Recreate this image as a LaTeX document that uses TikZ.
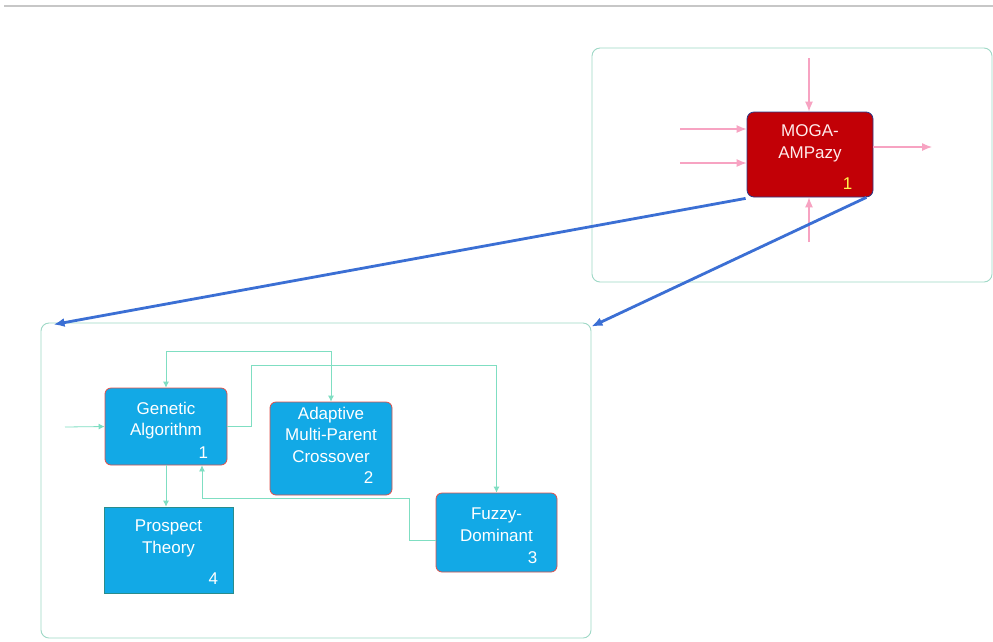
\documentclass[tikz,border=0pt]{standalone}
\usepackage{fontspec}
\setmainfont{Liberation Sans}
\usetikzlibrary{arrows.meta,positioning}
\definecolor{panelgreen}{HTML}{9ED8C6}
\definecolor{linkgreen}{HTML}{7FDEC2}
\definecolor{boxblue}{HTML}{12A9E6}
\definecolor{boxred}{HTML}{E0504A}
\definecolor{tealedge}{HTML}{2A8C8C}
\definecolor{mogared}{HTML}{C20006}
\definecolor{mogaedge}{HTML}{2A3A8A}
\definecolor{feedpink}{HTML}{F7A3C2}
\definecolor{zoomblue}{HTML}{3B6FD4}

\begin{document}
\begin{tikzpicture}[
    x=1pt, y=-1pt,
    font=\fontsize{17}{21.5}\selectfont,
    panel/.style={draw=panelgreen, line width=0.9pt, rounded corners=8pt},
    blk/.style={draw=boxred, fill=boxblue, rounded corners=6pt, line width=0.8pt},
    sqblk/.style={draw=tealedge, fill=boxblue, line width=0.8pt},
    mogablk/.style={draw=mogaedge, fill=mogared, rounded corners=7pt, line width=0.8pt},
    txt/.style={text=white, align=center, inner sep=0pt},
    num/.style={text=white, inner sep=0pt},
    link/.style={draw=linkgreen, line width=0.8pt},
    tip/.style={-{Latex[length=6pt,width=6pt]}},
    feed/.style={draw=feedpink, line width=1.2pt, -{Latex[length=10pt,width=8pt]}},
    zoomline/.style={draw=zoomblue, line width=2.8pt, -{Latex[length=11pt,width=9pt]}}
]
\path[fill=white] (0,0) rectangle (993,641);
\useasboundingbox (0,0) rectangle (993,641);
\draw[black!22, line width=1.2pt] (4,6) -- (993,6);

\node[panel, minimum width=400pt, minimum height=234pt] (toppanel) at (792,165) {};
\node[panel, minimum width=550pt, minimum height=315pt] (lowpanel) at (316,480.5) {};

\node[mogablk, minimum width=126pt, minimum height=85pt] (moga) at (810,154.5) {};
\node[txt, text=red!8, below=13pt of moga.north] (mogatxt) {MOGA-\\AMPazy};
\node[num, text=yellow!70!white, above left=8pt and 21pt of moga.south east] (moganum) {1};

\node[blk, minimum width=122pt, minimum height=77pt] (ga) at (166,426.5) {};
\node[txt, below=14pt of ga.north] (gatxt) {Genetic\\Algorithm};
\node[num, above left=7pt and 19pt of ga.south east] (ganum) {1};

\node[blk, minimum width=122pt, minimum height=93pt] (amp) at (331,448.5) {};
\node[txt, below=5pt of amp.north] (amptxt) {Adaptive\\Multi-Parent\\Crossover};
\node[num, above left=12pt and 19pt of amp.south east] (ampnum) {2};

\node[blk, minimum width=121pt, minimum height=79pt] (fz) at (496.5,532.5) {};
\node[txt, below=15pt of fz.north] (fztxt) {Fuzzy-\\Dominant};
\node[num, above left=9pt and 20pt of fz.south east] (fznum) {3};

\node[sqblk, minimum width=129pt, minimum height=86pt] (pt) at (168.5,550) {};
\node[txt, below=13pt of pt.north] (pttxt) {Prospect\\Theory};
\node[num, above left=9pt and 15pt of pt.south east] (ptnum) {4};

\coordinate (intop) at (809,58);
\coordinate (inbot) at (809,242);
\coordinate (inone) at (680,129);
\coordinate (intwo) at (680,163);
\coordinate (outone) at (932,147);
\coordinate (gain) at (65,427);

\draw[feed] (intop) -- (intop |- moga.north);
\draw[feed] (inbot) -- (inbot |- moga.south);
\draw[feed] (inone) -- (inone -| moga.west);
\draw[feed] (intwo) -- (intwo -| moga.west);
\draw[feed] (outone -| moga.east) -- (outone);

\draw[zoomline] ([shift={(-1,1)}]moga.south west) -- ([shift={(13,2)}]lowpanel.north west);
\draw[zoomline] ([shift={(-7,0)}]moga.south east) -- ([shift={(0,4)}]lowpanel.north east);

\draw[link, tip] (gain) -- (ga.west);
\draw[link, {Latex[length=6pt,width=6pt]}-{Latex[length=6pt,width=6pt]}] (ga.north) -- ++(0,-36) -| (amp.north);
\draw[link, tip] (ga.east) -- ++(24,0) -- ++(0,-61) -| (fz.north);
\draw[link, tip] ([yshift=-8pt]fz.west) -- ++(-26,0) -- ++(0,-42) -| ([xshift=36pt]ga.south);
\draw[link, tip] (ga.south) -- (ga.south |- pt.north);
\end{tikzpicture}
\end{document}
